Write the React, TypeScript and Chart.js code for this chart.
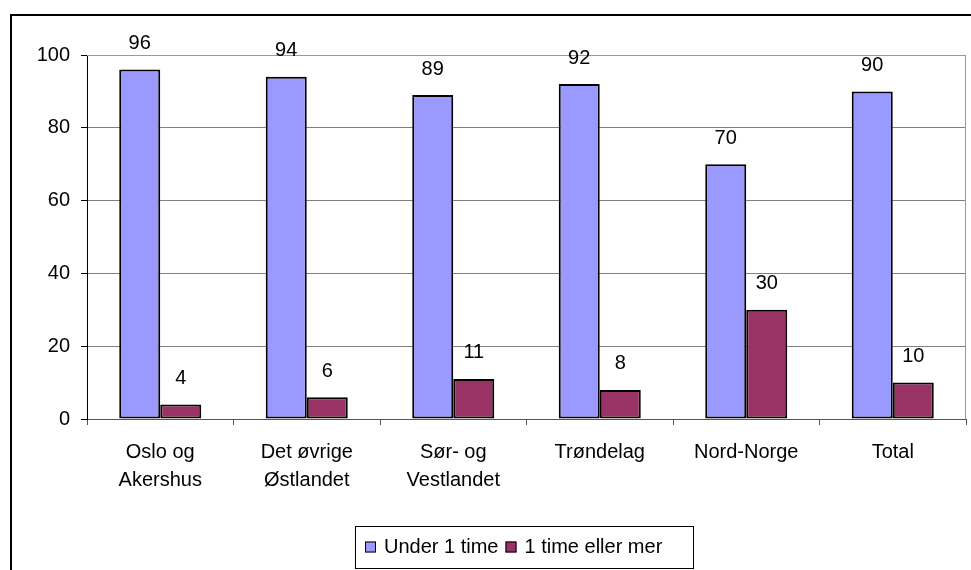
import React, { useEffect, useRef } from "react";
import { Chart, registerables } from "chart.js";

Chart.register(...registerables);

const categories: (string | string[])[] = [
  ["Oslo og", "Akershus"],
  ["Det øvrige", "Østlandet"],
  ["Sør- og", "Vestlandet"],
  "Trøndelag",
  "Nord-Norge",
  "Total",
];
const underOneHour = [96, 94, 89, 92, 70, 90];
const oneHourOrMore = [4, 6, 11, 8, 30, 10];
const seriesNames = ["Under 1 time", "1 time eller mer"];
const seriesColors = ["#9999FF", "#993366"];
const yTicks = { min: 0, max: 100, step: 20 };

const FONT = "'Liberation Sans', Arial, sans-serif";

const framePlugin = {
  id: "frame",
  beforeDraw(chart: any) {
    const ctx = chart.ctx;
    ctx.save();
    ctx.fillStyle = "#fff";
    ctx.fillRect(0, 0, chart.width, chart.height);
    ctx.strokeStyle = "#000";
    ctx.lineWidth = 2;
    ctx.beginPath();
    ctx.moveTo(11, chart.height);
    ctx.lineTo(11, 15);
    ctx.lineTo(chart.width, 15);
    ctx.stroke();
    ctx.restore();
  },
  beforeDatasetsDraw(chart: any) {
    const { ctx, chartArea } = chart;
    ctx.save();
    ctx.strokeStyle = "#999";
    ctx.lineWidth = 1;
    ctx.beginPath();
    ctx.moveTo(chartArea.left, chartArea.top + 0.5);
    ctx.lineTo(chartArea.right - 0.5, chartArea.top + 0.5);
    ctx.lineTo(chartArea.right - 0.5, chartArea.bottom);
    ctx.stroke();
    ctx.restore();
  },
};

const labelPlugin = {
  id: "valueLabels",
  afterDatasetsDraw(chart: any) {
    const ctx = chart.ctx;
    ctx.save();
    ctx.font = `20px ${FONT}`;
    ctx.fillStyle = "#000";
    ctx.textAlign = "center";
    ctx.textBaseline = "middle";
    chart.data.datasets.forEach((ds: any, i: number) => {
      const meta = chart.getDatasetMeta(i);
      meta.data.forEach((el: any, j: number) => {
        ctx.fillText(String(ds.data[j]), el.x, el.y - 26);
      });
    });
    ctx.restore();
  },
};

const legendPlugin = {
  id: "boxLegend",
  afterDraw(chart: any) {
    const ctx = chart.ctx;
    ctx.save();
    ctx.font = `20px ${FONT}`;
    const boxX = 355.5, boxY = 526.5, boxW = 338, boxH = 42;
    ctx.fillStyle = "#fff";
    ctx.fillRect(boxX, boxY, boxW, boxH);
    ctx.strokeStyle = "#000";
    ctx.lineWidth = 1;
    ctx.strokeRect(boxX, boxY, boxW, boxH);
    const cy = boxY + boxH / 2;
    let x = 365;
    chart.data.datasets.forEach((ds: any) => {
      ctx.fillStyle = ds.backgroundColor;
      ctx.fillRect(x, cy - 6, 11, 11);
      ctx.strokeStyle = "#000";
      ctx.lineWidth = 1;
      ctx.strokeRect(x + 0.5, cy - 5.5, 10, 10);
      ctx.fillStyle = "#000";
      ctx.textAlign = "left";
      ctx.textBaseline = "middle";
      ctx.fillText(ds.label, x + 19, cy);
      x += 19 + ctx.measureText(ds.label).width + 7;
    });
    ctx.restore();
  },
};

export default function App() {
  const ref = useRef<HTMLCanvasElement>(null);
  useEffect(() => {
    if (!ref.current) return;
    const chart = new Chart(ref.current, {
      type: "bar",
      data: {
        labels: categories,
        datasets: [
          {
            label: seriesNames[0],
            data: underOneHour,
            backgroundColor: seriesColors[0],
            borderColor: "#000",
            borderWidth: 2,
            borderSkipped: false,
          },
          {
            label: seriesNames[1],
            data: oneHourOrMore,
            backgroundColor: seriesColors[1],
            borderColor: "#000",
            borderWidth: 2,
            borderSkipped: false,
          },
        ],
      },
      options: {
        responsive: false,
        animation: false,
        devicePixelRatio: 1,
        layout: { padding: { left: 0, top: 55, right: 5, bottom: 0 } },
        datasets: { bar: { categoryPercentage: 0.56, barPercentage: 1 } },
        plugins: { legend: { display: false }, tooltip: { enabled: false } },
        scales: {
          x: {
            offset: true,
            grid: {
              offset: true,
              drawOnChartArea: false,
              drawTicks: true,
              tickLength: 6,
              color: "#555",
            },
            border: { color: "#555", width: 1 },
            ticks: {
              color: "#000",
              font: { family: FONT, size: 20, lineHeight: 1.4 },
              padding: 13,
              maxRotation: 0,
              autoSkip: false,
            },
            afterFit(scale: any) {
              scale.height = 151;
            },
          },
          y: {
            min: yTicks.min,
            max: yTicks.max,
            ticks: {
              stepSize: yTicks.step,
              color: "#000",
              font: { family: FONT, size: 20 },
              padding: 11,
            },
            grid: { color: "#808080", tickColor: "#000", tickLength: 6 },
            border: { color: "#000", width: 1 },
            afterFit(scale: any) {
              scale.width = 87;
            },
          },
        },
      },
      plugins: [framePlugin, labelPlugin, legendPlugin],
    });
    return () => chart.destroy();
  }, []);
  return (
    <div style={{ position: "fixed", left: 0, top: 0, width: 971, height: 570 }}>
      <canvas ref={ref} width={971} height={570} style={{ display: "block", width: 971, height: 570 }} />
    </div>
  );
}
